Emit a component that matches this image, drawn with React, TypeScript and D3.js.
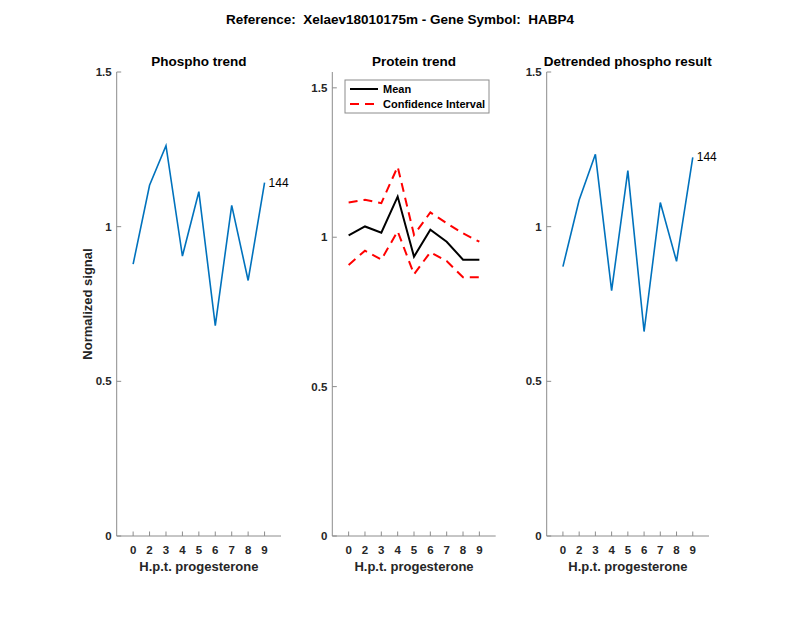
import React, { useEffect, useRef } from "react";
import * as d3 from "d3";

const hours = ["0", "2", "3", "4", "5", "6", "7", "8", "9"];
const phospho = [0.879, 1.134, 1.262, 0.905, 1.113, 0.68, 1.069, 0.826, 1.142];
const proteinMean = [1.006, 1.036, 1.015, 1.136, 0.935, 1.025, 0.985, 0.925, 0.925];
const proteinUpper = [1.116, 1.125, 1.114, 1.236, 1.008, 1.083, 1.047, 1.013, 0.985];
const proteinLower = [0.907, 0.955, 0.925, 1.02, 0.876, 0.95, 0.92, 0.866, 0.866];
const detrended = [0.871, 1.086, 1.234, 0.793, 1.181, 0.661, 1.078, 0.888, 1.224];
const yTicks = [0, 0.5, 1, 1.5];
const peptideLabel = "144";

const FONT = "'Liberation Sans', Arial, Helvetica, sans-serif";
const BLUE = "#0072BD";
const AXIS = "#8c8c8c";
const TEXT = "#262626";
const DASH = "9,6";

const App = () => {
  const svgRef = useRef<SVGSVGElement>(null);

  useEffect(() => {
    const svg = d3.select(svgRef.current);
    svg.selectAll("*").remove();

    const top = 72;
    const bottom = 536;

    const panels = [
      { left: 116.7, right: 281, yMax: 1.5, title: "Phospho trend", kind: "phospho" },
      { left: 332.3, right: 495.7, yMax: 1.553, title: "Protein trend", kind: "protein" },
      { left: 546.7, right: 709, yMax: 1.5, title: "Detrended phospho result", kind: "detrended" },
    ];

    svg
      .append("text")
      .attr("x", 400)
      .attr("y", 19)
      .attr("text-anchor", "middle")
      .attr("dominant-baseline", "central")
      .attr("font-family", FONT)
      .attr("font-weight", "bold")
      .attr("font-size", 13.5)
      .attr("fill", "#000")
      .attr("xml:space", "preserve")
      .text("Reference:  Xelaev18010175m - Gene Symbol:  HABP4");

    panels.forEach((p, pi) => {
      const x = d3.scaleLinear().domain([0, hours.length + 1]).range([p.left, p.right]);
      const y = d3.scaleLinear().domain([0, p.yMax]).range([bottom, top]);
      const g = svg.append("g");

      // axes
      g.append("line")
        .attr("x1", p.left).attr("x2", p.left)
        .attr("y1", top).attr("y2", bottom)
        .attr("stroke", AXIS).attr("stroke-width", 1);
      g.append("line")
        .attr("x1", p.left).attr("x2", p.right)
        .attr("y1", bottom).attr("y2", bottom)
        .attr("stroke", AXIS).attr("stroke-width", 1);

      yTicks.forEach((t) => {
        g.append("line")
          .attr("x1", p.left).attr("x2", p.left + 4.5)
          .attr("y1", y(t)).attr("y2", y(t))
          .attr("stroke", AXIS);
        g.append("text")
          .attr("x", p.left - 5)
          .attr("y", y(t))
          .attr("text-anchor", "end")
          .attr("dominant-baseline", "central")
          .attr("font-family", FONT)
          .attr("font-weight", "bold")
          .attr("font-size", 11.5)
          .attr("fill", TEXT)
          .text(d3.format("~g")(t));
      });

      hours.forEach((h, i) => {
        g.append("line")
          .attr("x1", x(i + 1)).attr("x2", x(i + 1))
          .attr("y1", bottom).attr("y2", bottom - 4.5)
          .attr("stroke", AXIS);
        g.append("text")
          .attr("x", x(i + 1))
          .attr("y", 550)
          .attr("text-anchor", "middle")
          .attr("dominant-baseline", "central")
          .attr("font-family", FONT)
          .attr("font-weight", "bold")
          .attr("font-size", 11.5)
          .attr("fill", TEXT)
          .text(h);
      });

      g.append("text")
        .attr("x", (p.left + p.right) / 2)
        .attr("y", 566)
        .attr("text-anchor", "middle")
        .attr("dominant-baseline", "central")
        .attr("font-family", FONT)
        .attr("font-weight", "bold")
        .attr("font-size", 13)
        .attr("fill", TEXT)
        .text("H.p.t. progesterone");

      g.append("text")
        .attr("x", (p.left + p.right) / 2)
        .attr("y", 61)
        .attr("text-anchor", "middle")
        .attr("dominant-baseline", "central")
        .attr("font-family", FONT)
        .attr("font-weight", "bold")
        .attr("font-size", 13.5)
        .attr("fill", "#000")
        .text(p.title);

      if (pi === 0) {
        g.append("text")
          .attr("transform", `translate(87,${(top + bottom) / 2}) rotate(-90)`)
          .attr("text-anchor", "middle")
          .attr("dominant-baseline", "central")
          .attr("font-family", FONT)
          .attr("font-weight", "bold")
          .attr("font-size", 13)
          .attr("fill", TEXT)
          .text("Normalized signal");
      }

      const line = d3
        .line<number>()
        .x((_, i) => x(i + 1))
        .y((d) => y(d));

      if (p.kind === "protein") {
        [proteinUpper, proteinLower].forEach((s) => {
          g.append("path")
            .attr("d", line(s))
            .attr("fill", "none")
            .attr("stroke", "#ff0000")
            .attr("stroke-width", 2)
            .attr("stroke-dasharray", DASH);
        });
        g.append("path")
          .attr("d", line(proteinMean))
          .attr("fill", "none")
          .attr("stroke", "#000")
          .attr("stroke-width", 2);

        // legend
        const lg = g.append("g").attr("transform", "translate(345,80)");
        lg.append("rect")
          .attr("width", 144).attr("height", 33)
          .attr("fill", "#fff").attr("stroke", AXIS);
        lg.append("line")
          .attr("x1", 5).attr("x2", 33).attr("y1", 9).attr("y2", 9)
          .attr("stroke", "#000").attr("stroke-width", 2);
        lg.append("line")
          .attr("x1", 5).attr("x2", 33).attr("y1", 24).attr("y2", 24)
          .attr("stroke", "#ff0000").attr("stroke-width", 2)
          .attr("stroke-dasharray", DASH);
        [["Mean", 9], ["Confidence Interval", 24]].forEach(([t, yy]) => {
          lg.append("text")
            .attr("x", 38)
            .attr("y", yy as number)
            .attr("dominant-baseline", "central")
            .attr("font-family", FONT)
            .attr("font-weight", "bold")
            .attr("font-size", 11)
            .attr("fill", "#000")
            .text(t as string);
        });
      } else {
        const series = p.kind === "phospho" ? phospho : detrended;
        g.append("path")
          .attr("d", line(series))
          .attr("fill", "none")
          .attr("stroke", BLUE)
          .attr("stroke-width", 1.6);
        const last = series.length - 1;
        g.append("text")
          .attr("x", x(last + 1) + 4)
          .attr("y", y(series[last]))
          .attr("dominant-baseline", "central")
          .attr("font-family", FONT)
          .attr("font-size", 12)
          .attr("fill", "#000")
          .text(peptideLabel);
      }
    });
  }, []);

  return (
    <div style={{ margin: -8 }}>
      <svg ref={svgRef} width={800} height={618} style={{ display: "block", background: "#fff" }} />
    </div>
  );
};

export default App;
